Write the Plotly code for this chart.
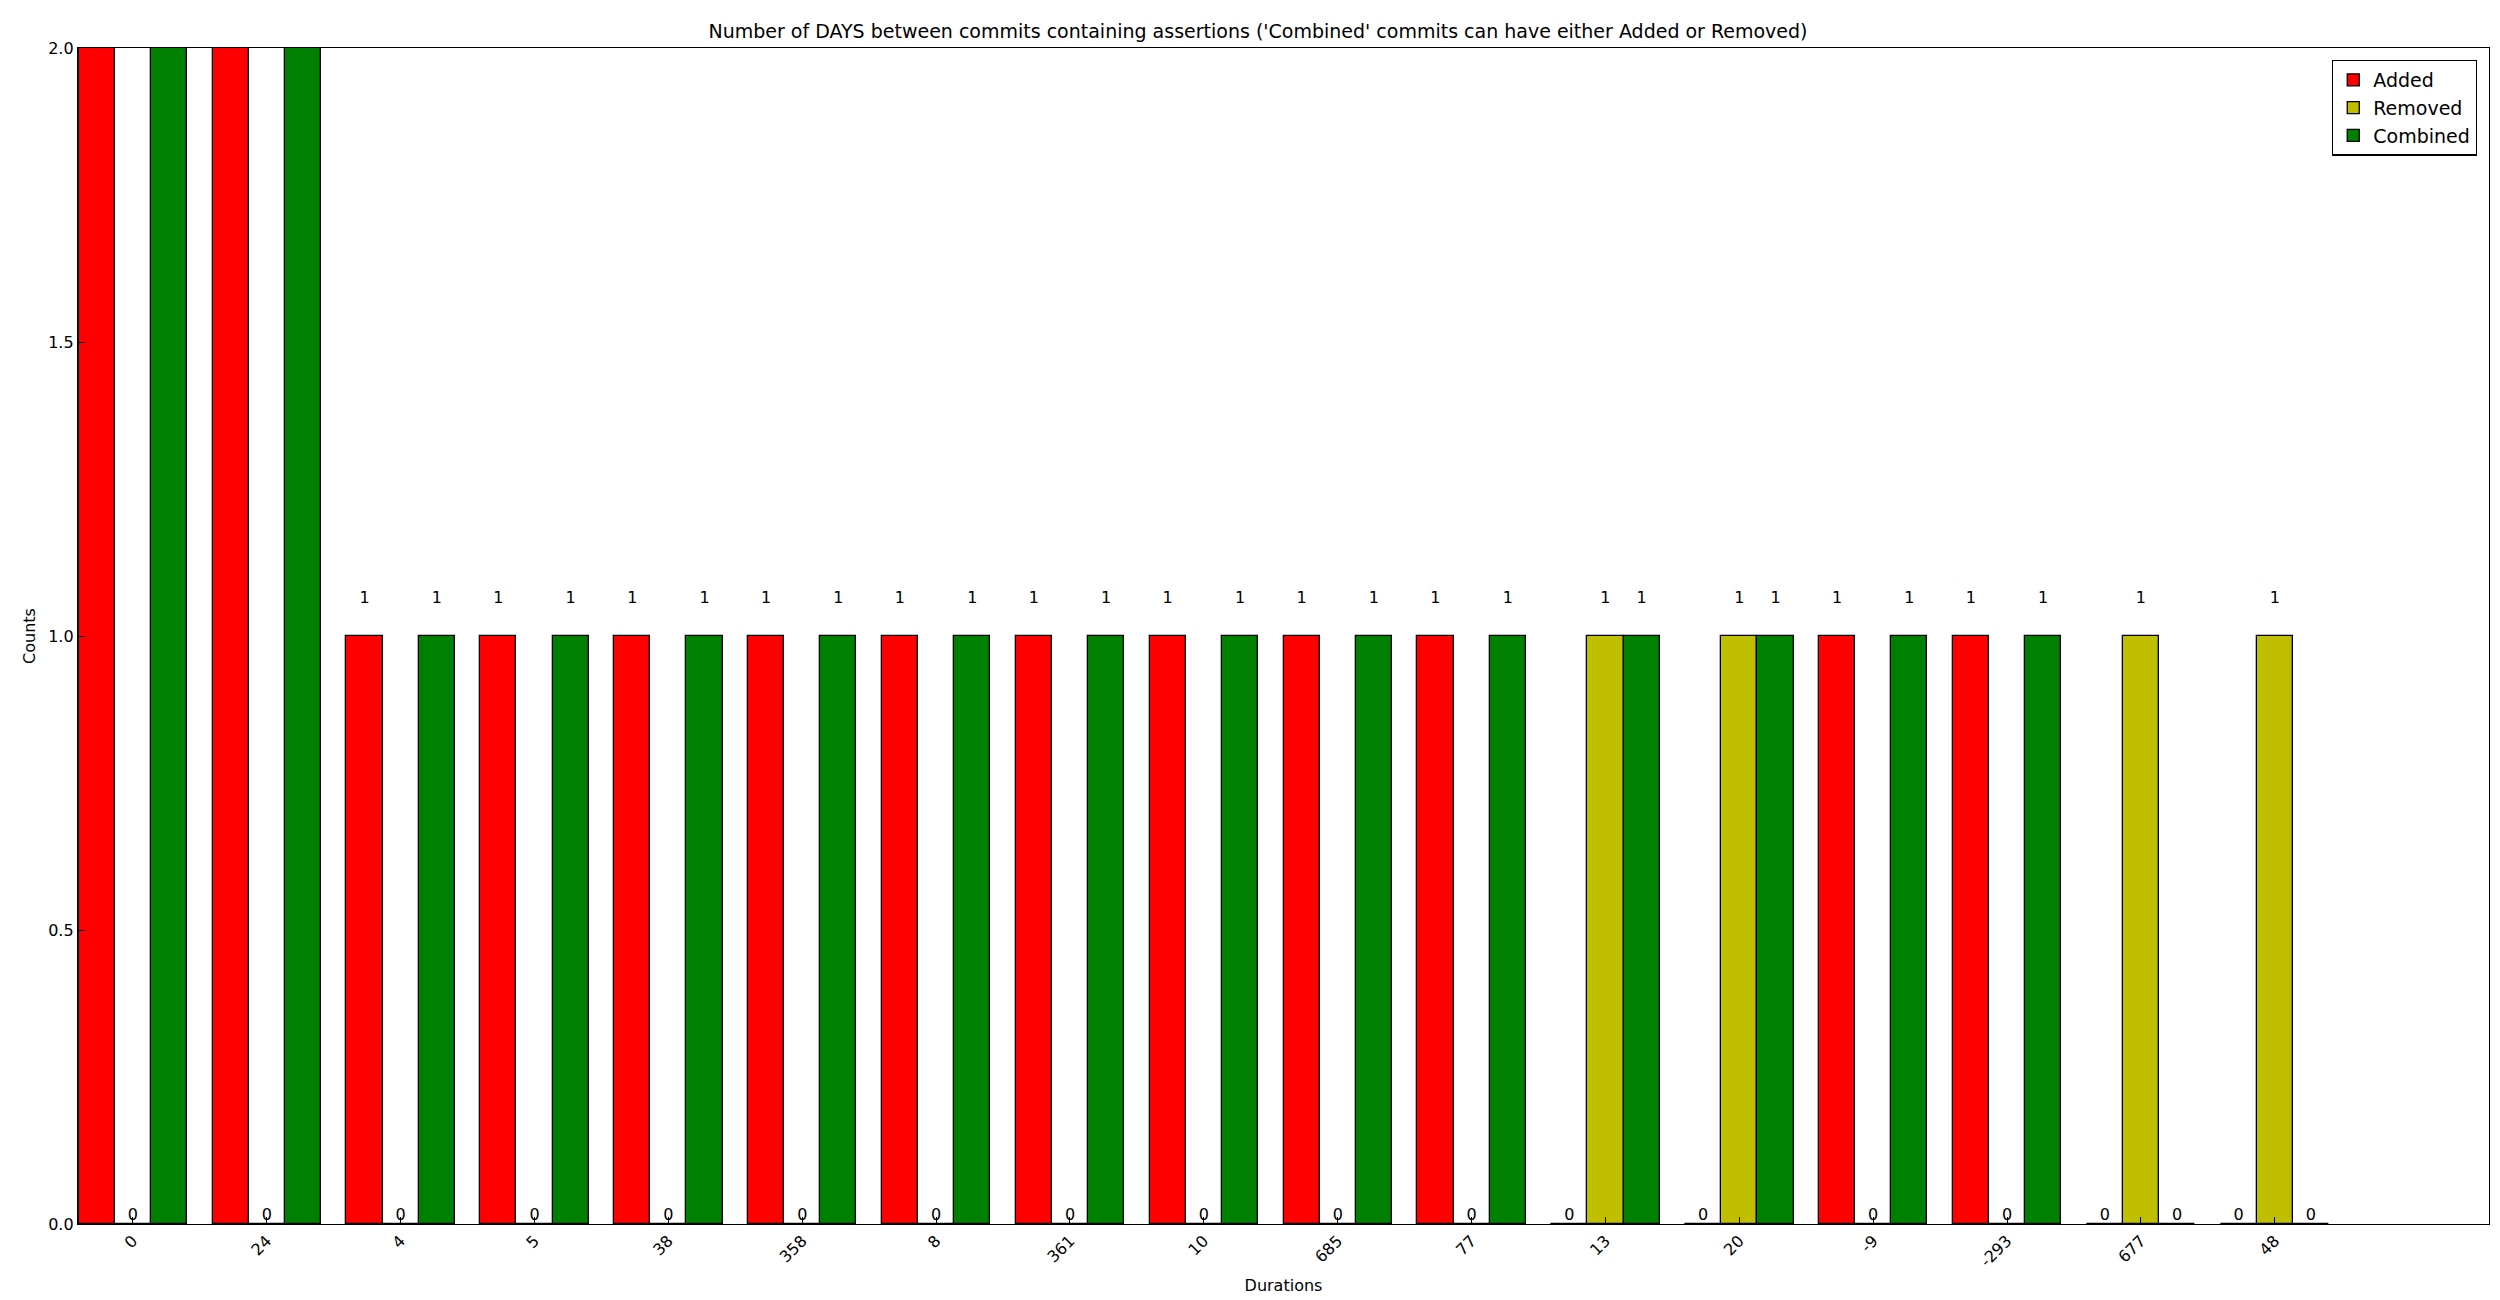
import plotly.graph_objects as go

durations = ["0", "24", "4", "5", "38", "358", "8", "361", "10", "685", "77",
             "13", "20", "-9", "-293", "677", "48"]
added = [2, 2, 1, 1, 1, 1, 1, 1, 1, 1, 1, 0, 0, 1, 1, 0, 0]
removed = [0, 0, 0, 0, 0, 0, 0, 0, 0, 0, 0, 1, 1, 0, 0, 1, 1]
combined = [2, 2, 1, 1, 1, 1, 1, 1, 1, 1, 1, 1, 1, 1, 1, 0, 0]

width = 0.27
y_max = 2.0
idx = list(range(len(durations)))

fig = go.Figure()
series = [("Added", added, "#ff0000", -width),
          ("Removed", removed, "#bfbf00", 0),
          ("Combined", combined, "#008000", width)]

for name, vals, color, off in series:
    xs = [i + off for i in idx]
    fig.add_trace(go.Bar(
        x=xs, y=vals, width=width, name=name,
        marker=dict(color=color, line=dict(color="black", width=1.3)),
    ))
    # labels above the axes top fall outside the plot, as in the original
    lab = [(x, v) for x, v in zip(xs, vals) if v * 1.05 < y_max]
    fig.add_trace(go.Scatter(
        x=[p[0] for p in lab], y=[p[1] * 1.05 for p in lab], mode="text",
        text=[str(p[1]) for p in lab], textposition="top center",
        textfont=dict(size=16, color="black"),
        showlegend=False, cliponaxis=True, hoverinfo="skip",
    ))

axis_common = dict(showline=True, linecolor="black", linewidth=1.3, mirror=True,
                   ticks="inside", tickcolor="black", ticklen=7, showgrid=False,
                   zeroline=False, tickfont=dict(size=16, color="black"))

fig.update_layout(
    width=2500, height=1300,
    plot_bgcolor="white", paper_bgcolor="white",
    font=dict(family="DejaVu Sans", color="black"),
    margin=dict(l=70, r=19, t=40, b=84),
    title=dict(text="Number of DAYS between commits containing assertions ('Combined' commits can have either Added or Removed)",
               x=0.5, xanchor="center", y=0.982, yanchor="middle",
               font=dict(size=19)),
    bargap=0,
    legend=dict(x=0.995, y=0.99, xanchor="right", yanchor="top",
                bordercolor="black", borderwidth=1.3, bgcolor="white",
                font=dict(size=19)),
    xaxis=dict(range=[-0.41, 17.6], tickmode="array", tickvals=idx,
               ticktext=durations, tickangle=-45,
               title=dict(text="Durations", font=dict(size=16), standoff=10),
               **axis_common),
    yaxis=dict(range=[0, y_max], tickvals=[0, 0.5, 1.0, 1.5, 2.0], tickformat=".1f",
               title=dict(text="Counts", font=dict(size=16), standoff=8),
               **axis_common),
)

fig.write_html("out.html")
